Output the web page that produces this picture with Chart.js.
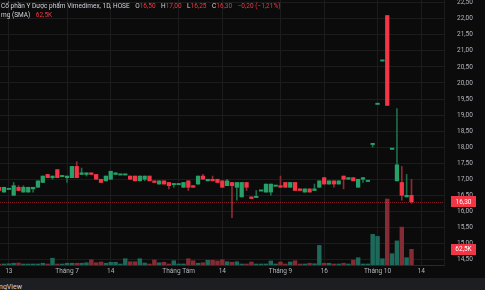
<!DOCTYPE html>
<html>
<head>
<meta charset="utf-8">
<script src="https://cdn.jsdelivr.net/npm/chart.js@4.4.1/dist/chart.umd.min.js"></script>
<style>
  html, body { margin: 0; padding: 0; background: #0b0b0b; overflow: hidden; }
  #wrap { position: relative; width: 485px; height: 290px; }
  #c { position: absolute; left: 0; top: 0; }
  .line { position: absolute; left: 1px; font: 6.5px Roboto, sans-serif; color: #d1d4dc; white-space: nowrap; line-height: 8px; }
  .line span { margin-right: 5.5px; }
  .r { color: #f23645; font-style: normal; }
  #foot { position: absolute; left: 0; top: 278px; width: 485px; height: 12px; background: #1d1e22; }
  #brand { position: absolute; right: 463px; top: 5px; font: 7px Roboto, sans-serif; color: #d1d4dc; white-space: nowrap; }
</style>
</head>
<body>
<div id="wrap">
  <canvas id="c" width="485" height="290"></canvas>
  <div class="line" id="l1" style="top:2px"></div>
  <div class="line" id="l2" style="top:11px"></div>
  <div id="foot"><div id="brand">TradingView</div></div>
</div>
<script>
// trading days shown (HOSE, 2025)
var dates = [
  '2025-06-11','2025-06-12','2025-06-13','2025-06-16','2025-06-17','2025-06-18','2025-06-19','2025-06-20','2025-06-23','2025-06-24',
  '2025-06-25','2025-06-26','2025-06-27','2025-06-30','2025-07-01','2025-07-02','2025-07-03','2025-07-04','2025-07-07','2025-07-08',
  '2025-07-09','2025-07-10','2025-07-11','2025-07-14','2025-07-15','2025-07-16','2025-07-17','2025-07-18','2025-07-21','2025-07-22',
  '2025-07-23','2025-07-24','2025-07-25','2025-07-28','2025-07-29','2025-07-30','2025-07-31','2025-08-01','2025-08-04','2025-08-05',
  '2025-08-06','2025-08-07','2025-08-08','2025-08-11','2025-08-12','2025-08-13','2025-08-14','2025-08-15','2025-08-18','2025-08-19',
  '2025-08-20','2025-08-21','2025-08-22','2025-08-25','2025-08-26','2025-08-27','2025-08-28','2025-08-29','2025-09-03','2025-09-04',
  '2025-09-05','2025-09-08','2025-09-09','2025-09-10','2025-09-11','2025-09-12','2025-09-15','2025-09-16','2025-09-17','2025-09-18',
  '2025-09-19','2025-09-22','2025-09-23','2025-09-24','2025-09-25','2025-09-26','2025-09-29','2025-09-30','2025-10-01','2025-10-02',
  '2025-10-03','2025-10-06','2025-10-07','2025-10-08','2025-10-09','2025-10-10'
];
var futureDays = ['2025-10-13', '2025-10-14', '2025-10-15', '2025-10-16', '2025-10-17'];

var open = [
  16.75,16.60,16.70,16.50,16.75,16.60,16.60,16.70,16.75,16.90,
  17.15,17.05,17.30,17.10,17.05,17.05,17.40,17.15,17.15,17.20,
  17.15,17.00,16.95,17.00,17.15,17.15,17.15,17.10,17.10,16.95,
  17.00,17.10,16.95,16.85,16.95,16.90,16.85,16.85,16.75,16.95,
  16.80,16.85,17.10,16.95,17.00,17.00,16.95,16.80,16.90,16.75,
  16.45,16.90,16.45,16.45,16.65,16.60,16.60,16.80,16.80,16.90,
  16.75,16.90,16.70,16.60,16.70,16.65,16.75,17.05,16.85,16.95,
  16.85,17.10,17.00,17.05,16.75,17.00,16.95,18.10,19.35,20.70,
  22.10,17.95,16.95,16.90,16.45,16.50
];
var high = [
  16.75,16.75,16.70,16.90,16.80,16.80,16.75,16.75,16.95,17.10,
  17.15,17.10,17.30,17.10,17.10,17.40,17.55,17.35,17.20,17.20,
  17.15,17.00,17.10,17.25,17.20,17.15,17.15,17.10,17.10,17.10,
  17.10,17.10,16.95,16.95,16.95,16.90,16.85,16.85,16.90,16.95,
  16.80,17.10,17.15,17.00,17.10,17.00,16.95,17.00,16.90,16.90,
  16.90,16.90,16.45,16.65,16.65,16.85,16.85,16.80,17.10,16.90,
  16.90,16.90,16.70,16.70,16.70,16.85,16.95,17.05,16.95,16.95,
  16.95,17.10,17.05,17.05,17.00,17.05,16.95,18.10,19.35,20.70,
  22.10,17.95,19.20,17.40,17.15,17.00
];
var low = [
  16.65,16.60,16.70,16.50,16.65,16.60,16.60,16.60,16.75,16.90,
  17.05,17.00,17.05,17.10,16.90,17.05,17.05,17.15,17.10,17.15,
  17.00,16.90,16.95,17.00,17.15,17.15,17.15,17.00,16.95,16.95,
  16.95,16.95,16.90,16.85,16.85,16.70,16.75,16.85,16.75,16.65,
  16.75,16.85,17.00,16.95,16.95,16.90,16.75,16.80,15.80,16.35,
  16.45,16.65,16.40,16.45,16.65,16.60,16.50,16.80,16.75,16.75,
  16.75,16.65,16.65,16.60,16.60,16.65,16.75,16.85,16.85,16.75,
  16.85,16.70,17.00,16.95,16.75,16.90,16.95,18.00,19.35,20.70,
  19.30,17.95,16.95,16.35,16.45,16.25
];
var close = [
  16.65,16.75,16.70,16.80,16.65,16.75,16.75,16.75,16.95,17.10,
  17.05,17.10,17.05,17.10,17.10,17.40,17.05,17.20,17.20,17.15,
  17.00,16.90,17.10,17.25,17.20,17.15,17.15,17.00,16.95,17.10,
  17.10,16.95,16.90,16.95,16.85,16.80,16.85,16.85,16.90,16.75,
  16.75,17.10,17.00,17.00,16.95,16.90,16.75,16.95,16.80,16.90,
  16.90,16.75,16.40,16.45,16.65,16.85,16.85,16.80,16.75,16.75,
  16.90,16.65,16.65,16.70,16.60,16.70,16.95,16.85,16.95,16.85,
  16.95,17.00,17.05,16.95,17.00,17.05,16.95,18.10,19.35,20.70,
  19.30,17.95,17.45,16.50,16.50,16.30
];
// volume in thousands of shares
var volumeK = [
  4,4,5,7,8,4,4,4,4,7,
  4,27,4,4,7,7,7,7,9,21,
  9,12,7,11,11,4,25,13,13,25,
  8,4,20,9,11,4,17,4,4,25,
  17,7,9,19,19,16,21,13,11,13,
  4,4,12,4,4,4,16,4,12,4,
  12,17,4,4,7,5,78,7,7,4,
  4,7,4,20,29,4,4,122,114,25,
  263,45,96,151,29,62.5
];
var tickDates = ['2025-06-13','2025-07-01','2025-07-14','2025-08-01','2025-08-14','2025-09-03','2025-09-16','2025-10-01','2025-10-14'];
var tickLabels = ['13','Tháng 7','14','Tháng Tám','14','Tháng 9','16','Tháng 10','14'];
var priceTicks = [14.5,15,15.5,16,16.5,17,17.5,18,18.5,19,19.5,20,20.5,21,21.5,22,22.5];

var allDays = dates.concat(futureDays);
var tickIdx = tickDates.map(function (d) { return allDays.indexOf(d); });

var upBody = '#26a269', downBody = '#f23645';
var upWick = '#1f6b46', downWick = '#8e2a31';
var upVol = '#1d6a5b', downVol = '#842b33';

function isUp(i) { return close[i] >= open[i]; }
function comma(v, d) { return v.toFixed(d).replace('.', ','); }

var bodies = dates.map(function (d, i) {
  var lo = Math.min(open[i], close[i]), hi = Math.max(open[i], close[i]);
  if (hi - lo < 0.04) { var m = (hi + lo) / 2; lo = m - 0.02; hi = m + 0.02; }
  return { x: i, y: [lo, hi] };
});
var wicks = dates.map(function (d, i) { return { x: i, y: [low[i], high[i]] }; });
var vols = dates.map(function (d, i) { return { x: i, y: volumeK[i] * 1000 }; });

var last = dates.length - 1;

// header
var chg = close[last] - close[last - 1];
var pct = chg / close[last - 1] * 100;
document.getElementById('l1').innerHTML =
  '<span>Cổ phần Y Dược phẩm Vimedimex, 1D, HOSE</span>' +
  '<span>O<i class="r">' + comma(open[last], 2) + '</i></span>' +
  '<span>H<i class="r">' + comma(high[last], 2) + '</i></span>' +
  '<span>L<i class="r">' + comma(low[last], 2) + '</i></span>' +
  '<span>C<i class="r">' + comma(close[last], 2) + '</i></span>' +
  '<span class="r">' + (chg < 0 ? '−' : '+') + comma(Math.abs(chg), 2) + ' (' + (pct < 0 ? '−' : '+') + comma(Math.abs(pct), 2) + '%)</span>';
document.getElementById('l2').innerHTML =
  '<span>mg (SMA)</span><span class="r">' + comma(volumeK[last], 1) + 'K</span>';

var tickFont = { family: 'Roboto', size: 6.5 };

var overlay = {
  id: 'overlay',
  beforeDraw: function (chart) {
    var ctx = chart.ctx;
    ctx.save();
    ctx.fillStyle = '#0b0b0b';
    ctx.fillRect(0, 0, chart.width, chart.height);
    ctx.restore();
  },
  afterDatasetsDraw: function (chart) {
    var ctx = chart.ctx, a = chart.chartArea;
    var y = Math.round(chart.scales.y.getPixelForValue(close[last])) + 0.5;
    ctx.save();
    ctx.strokeStyle = 'rgba(242,54,69,0.5)';
    ctx.lineWidth = 1;
    ctx.setLineDash([1, 1]);
    ctx.beginPath();
    ctx.moveTo(a.left, y);
    ctx.lineTo(a.right, y);
    ctx.stroke();
    ctx.restore();
  },
  afterDraw: function (chart) {
    var ctx = chart.ctx;
    function box(yy, txt) {
      ctx.fillStyle = '#f23645';
      ctx.fillRect(451, Math.round(yy - 5.5), 25, 11);
      ctx.fillStyle = '#ffffff';
      ctx.font = '6.5px Roboto';
      ctx.textAlign = 'center';
      ctx.textBaseline = 'middle';
      ctx.fillText(txt, 463.5, yy + 0.5);
    }
    ctx.save();
    box(chart.scales.y.getPixelForValue(close[last]), comma(close[last], 2));
    box(chart.scales.yv.getPixelForValue(volumeK[last] * 1000), comma(volumeK[last], 1) + 'K');
    ctx.restore();
  }
};

new Chart(document.getElementById('c'), {
  type: 'bar',
  data: {
    datasets: [
      {
        label: 'body', data: bodies, yAxisID: 'y', grouped: false, order: 1,
        barThickness: 3.6, borderWidth: 0,
        backgroundColor: dates.map(function (d, i) { return isUp(i) ? upBody : downBody; })
      },
      {
        label: 'wick', data: wicks, yAxisID: 'y', grouped: false, order: 2,
        barThickness: 1, borderWidth: 0,
        backgroundColor: dates.map(function (d, i) { return isUp(i) ? upWick : downWick; })
      },
      {
        label: 'volume', data: vols, yAxisID: 'yv', grouped: false, order: 3,
        barThickness: 3.8, borderWidth: 0,
        backgroundColor: dates.map(function (d, i) { return isUp(i) ? upVol : downVol; })
      }
    ]
  },
  options: {
    responsive: false,
    animation: false,
    layout: { padding: { left: 0, right: 0, top: 0, bottom: 12 } },
    plugins: { legend: { display: false }, tooltip: { enabled: false } },
    scales: {
      x: {
        type: 'linear', min: 0.18, max: 91.7, offset: false,
        grid: { color: '#1c1c1c', drawTicks: false, offset: false },
        border: { display: true, color: '#2a2a2a' },
        ticks: {
          color: '#b2b5be', font: tickFont, padding: 2, maxRotation: 0, autoSkip: false,
          callback: function (v) { var k = tickIdx.indexOf(v); return k < 0 ? '' : tickLabels[k]; }
        },
        afterBuildTicks: function (s) { s.ticks = tickIdx.map(function (v) { return { value: v }; }); },
        afterFit: function (s) { s.height = 13; s.paddingLeft = 0; s.paddingRight = 0; }
      },
      y: {
        position: 'right', min: 14.329, max: 22.584,
        grid: { color: '#1c1c1c', drawTicks: false },
        border: { display: true, color: '#1c1c1c' },
        ticks: {
          color: '#b2b5be', font: tickFont, padding: 13, autoSkip: false,
          callback: function (v) { return comma(v, 2); }
        },
        afterBuildTicks: function (s) { s.ticks = priceTicks.map(function (v) { return { value: v }; }); },
        afterFit: function (s) { s.width = 41; s.paddingTop = 0; s.paddingBottom = 0; }
      },
      yv: { display: false, min: 0, max: 1056000 }
    }
  },
  plugins: [overlay]
});
</script>
</body>
</html>
